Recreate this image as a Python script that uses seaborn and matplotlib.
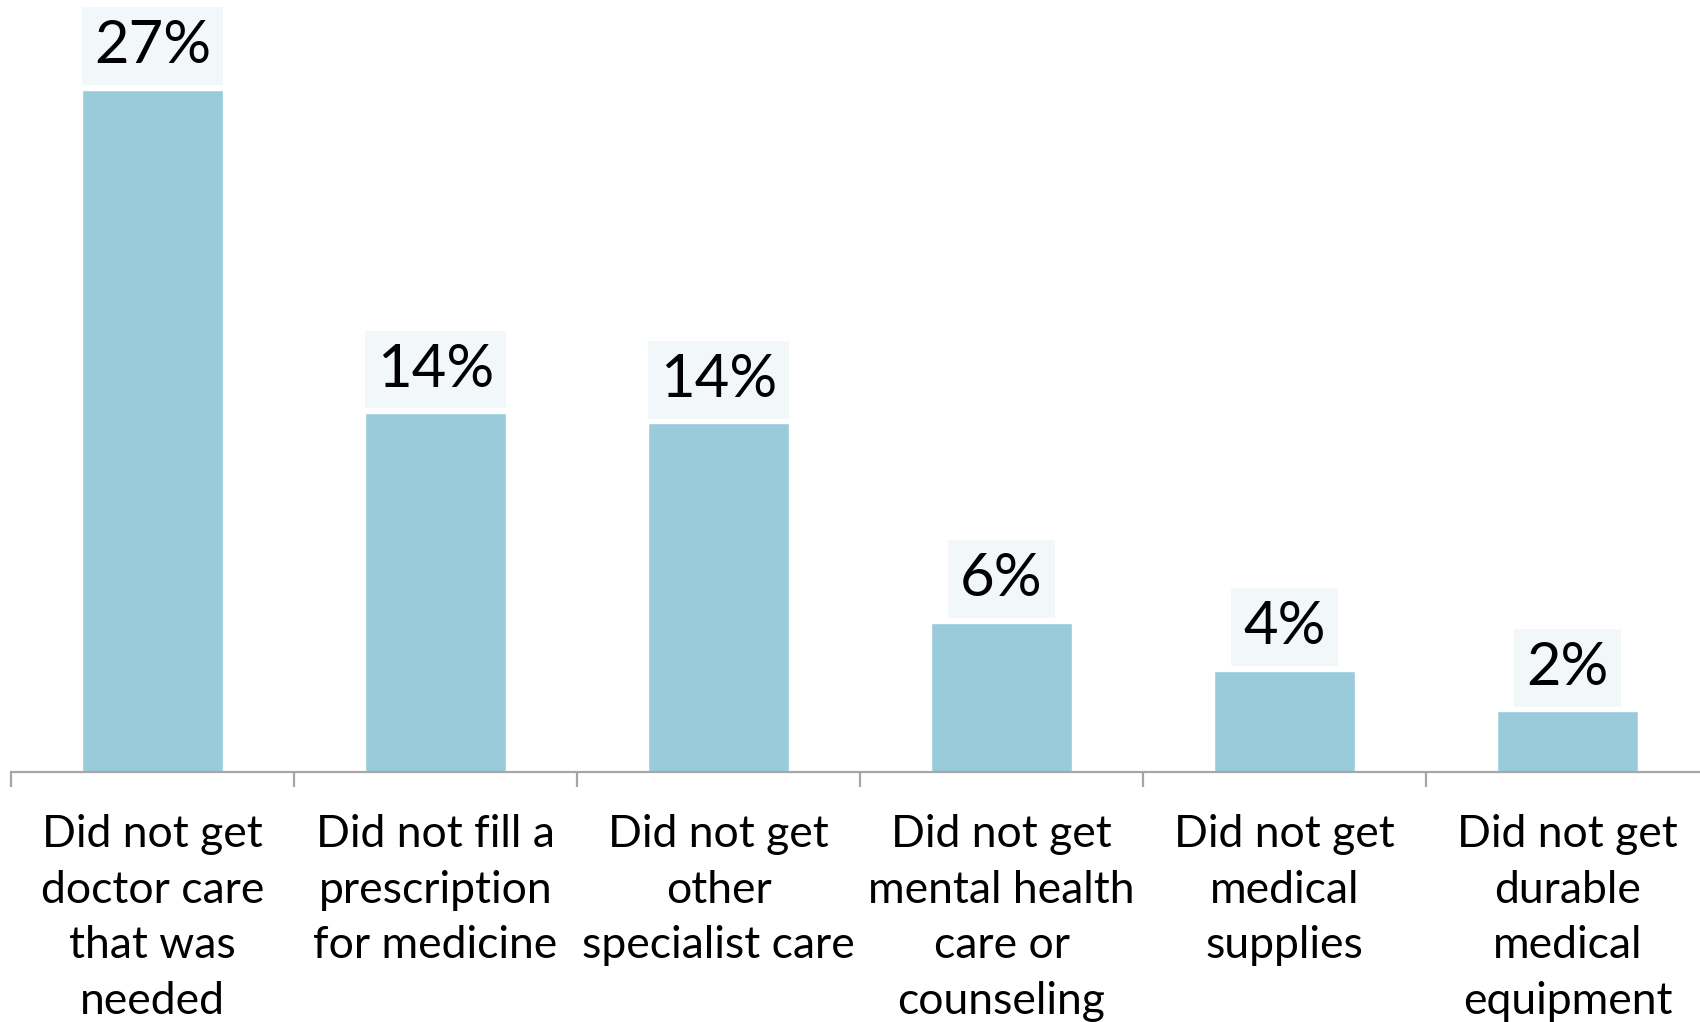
import matplotlib
matplotlib.use("Agg")
import matplotlib.pyplot as plt
import seaborn as sns
import pandas as pd
import numpy as np

categories = [
    "Did not get\ndoctor care\nthat was\nneeded",
    "Did not fill a\nprescription\nfor medicine",
    "Did not get\nother\nspecialist care",
    "Did not get\nmental health\ncare or\ncounseling",
    "Did not get\nmedical\nsupplies",
    "Did not get\ndurable\nmedical\nequipment",
]
values = [27.0, 14.2, 13.8, 5.9, 4.0, 2.4]

BAR_COLOR = "#99CBDB"
BOX_COLOR = "#F2F7FA"
AXIS_COLOR = "#A6A6A6"

sns.set_theme(style="white")
plt.rcParams["font.family"] = ["Lato", "DejaVu Sans"]

df = pd.DataFrame({"category": categories, "share": values})

fig = plt.figure(figsize=(17, 10.22), dpi=100)
ax = fig.add_axes([11 / 1700, 250 / 1022, 6 * 283 / 1700, 758 / 1022])

sns.barplot(data=df, x="category", y="share", color=BAR_COLOR,
            saturation=1, width=0.5, ax=ax)

ax.set_xlim(-0.5, len(categories) - 0.5)
ax.set_ylim(0, 30)

for spine in ["top", "right", "left"]:
    ax.spines[spine].set_visible(False)
ax.spines["bottom"].set_color(AXIS_COLOR)
ax.spines["bottom"].set_linewidth(1.6)

ax.set_yticks([])
ax.set_xlabel("")
ax.set_ylabel("")

# category separators as minor ticks, labels on majors without tick marks
ax.set_xticks(np.arange(len(categories) + 1) - 0.5, minor=True)
ax.tick_params(axis="x", which="minor", bottom=True, length=11, width=1.6,
               color=AXIS_COLOR, direction="out")
ax.tick_params(axis="x", which="major", bottom=True, length=0, pad=30)
ax.set_xticks(range(len(categories)))
ax.set_xticklabels(categories, fontsize=32, linespacing=1.45, color="black")

for i, v in enumerate(values):
    ax.annotate(f"{v:.0f}%", xy=(i, v), xytext=(0, 12), textcoords="offset points",
                ha="center", va="bottom", fontsize=43, color="black",
                bbox=dict(boxstyle="square,pad=0.2", facecolor=BOX_COLOR,
                          edgecolor="none"),
                annotation_clip=False)

fig.savefig("out.png", dpi=100)
